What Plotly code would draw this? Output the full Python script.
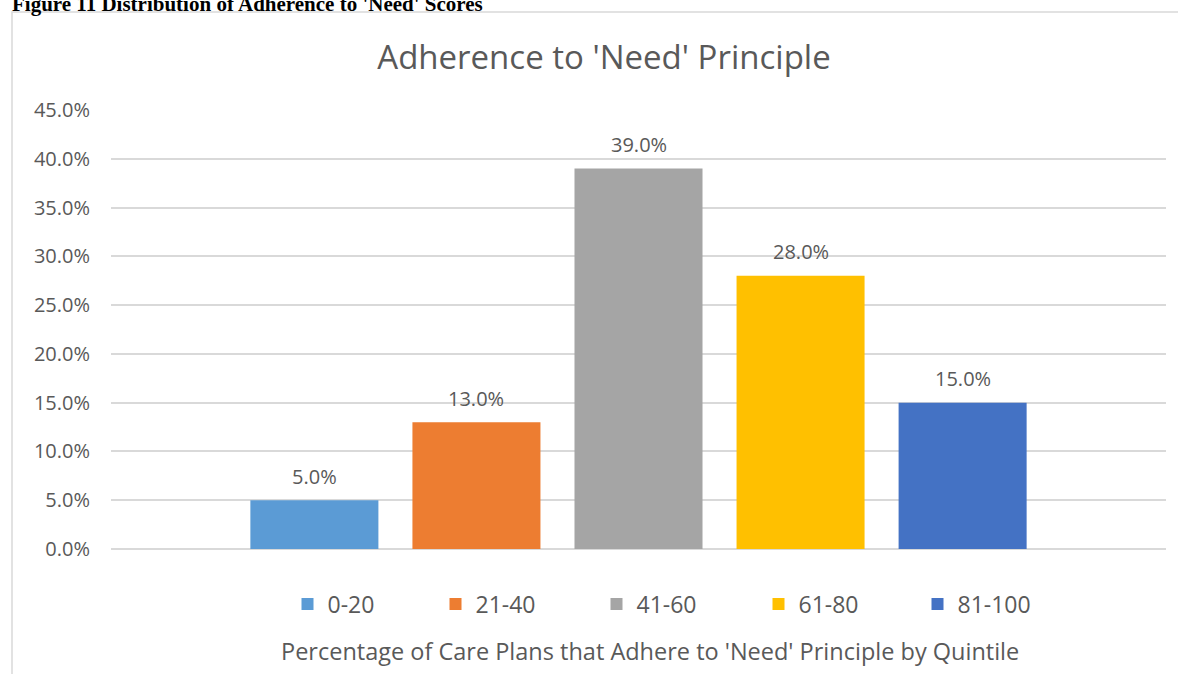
import plotly.graph_objects as go

categories = ["0-20", "21-40", "41-60", "61-80", "81-100"]
values = [5.0, 13.0, 39.0, 28.0, 15.0]
colors = ["#5B9BD5", "#ED7D31", "#A5A5A5", "#FFC000", "#4472C4"]
tick_vals = [0, 5, 10, 15, 20, 25, 30, 35, 40, 45]
tick_text = [f"{v:.1f}%" for v in tick_vals]

FONT = "Open Sans"
TXT = "#595959"

W, H = 1178, 674
L, R, T, B = 111, 12, 110, 125
pw, ph = W - L - R, H - T - B

def px_x(x):
    return (x - L) / pw

def px_y(y):
    return (H - B - y) / ph

# legend symbol centres (pixels) for each entry
legend_centres = [307, 455, 616, 778, 937]

fig = go.Figure()
legend_layouts = {}
annotations = []
for i, (cat, val, col) in enumerate(zip(categories, values, colors)):
    lg = "legend" if i == 0 else f"legend{i + 1}"
    fig.add_trace(go.Bar(
        x=[cat], y=[val], name=cat, width=0.79, legend=lg,
        marker=dict(color=col, line=dict(width=0)),
    ))
    legend_layouts[lg] = dict(
        orientation="h", x=px_x(legend_centres[i] - 19.5), xanchor="left",
        y=px_y(604), yanchor="middle", bgcolor="rgba(0,0,0,0)",
        font=dict(family=FONT, size=23, color=TXT), itemwidth=30,
    )
    annotations.append(dict(
        x=cat, y=val, xref="x", yref="y", text=f"{val:.1f}%", showarrow=False,
        yanchor="middle", yshift=24, font=dict(family=FONT, size=20, color=TXT),
    ))

annotations += [
    dict(text="Percentage of Care Plans that Adhere to 'Need' Principle by Quintile",
         xref="paper", yref="paper", x=px_x(650), y=px_y(651), xanchor="center", yanchor="middle",
         showarrow=False, font=dict(family=FONT, size=23.5, color=TXT)),
    dict(text="<b>Figure 11 Distribution of Adherence to 'Need' Scores</b>",
         xref="paper", yref="paper", x=px_x(10), y=px_y(18), xanchor="left", yanchor="bottom",
         showarrow=False, font=dict(family="Liberation Serif", size=21, color="black")),
]

fig.update_layout(
    width=W, height=H,
    margin=dict(l=L, r=R, t=T, b=B, autoexpand=False),
    paper_bgcolor="white", plot_bgcolor="white",
    barmode="overlay",
    font=dict(family=FONT, color=TXT),
    title=dict(text="Adherence to 'Need' Principle", x=604 / W, xanchor="center",
               y=1 - 57 / H, yanchor="middle",
               font=dict(family=FONT, size=33, color=TXT)),
    showlegend=True,
    xaxis=dict(type="category", categoryorder="array", categoryarray=categories,
               range=[-1.255, 5.255], showticklabels=False, showline=False,
               showgrid=False, zeroline=False, title=None, ticks=""),
    yaxis=dict(range=[0, 45], tickvals=tick_vals, ticktext=tick_text,
               tickfont=dict(family=FONT, size=20, color=TXT),
               showgrid=True, gridcolor="#D9D9D9", gridwidth=1.5,
               zeroline=True, zerolinecolor="#D9D9D9", zerolinewidth=1.5,
               showline=False, ticks="", ticklabelstandoff=20),
    shapes=[dict(type="rect", xref="paper", yref="paper",
                 x0=px_x(12), x1=px_x(1200), y0=px_y(700), y1=px_y(12),
                 line=dict(color="#D9D9D9", width=1.5), fillcolor="rgba(0,0,0,0)", layer="below")],
    annotations=annotations,
    **legend_layouts,
)

fig.write_html("out.html")
